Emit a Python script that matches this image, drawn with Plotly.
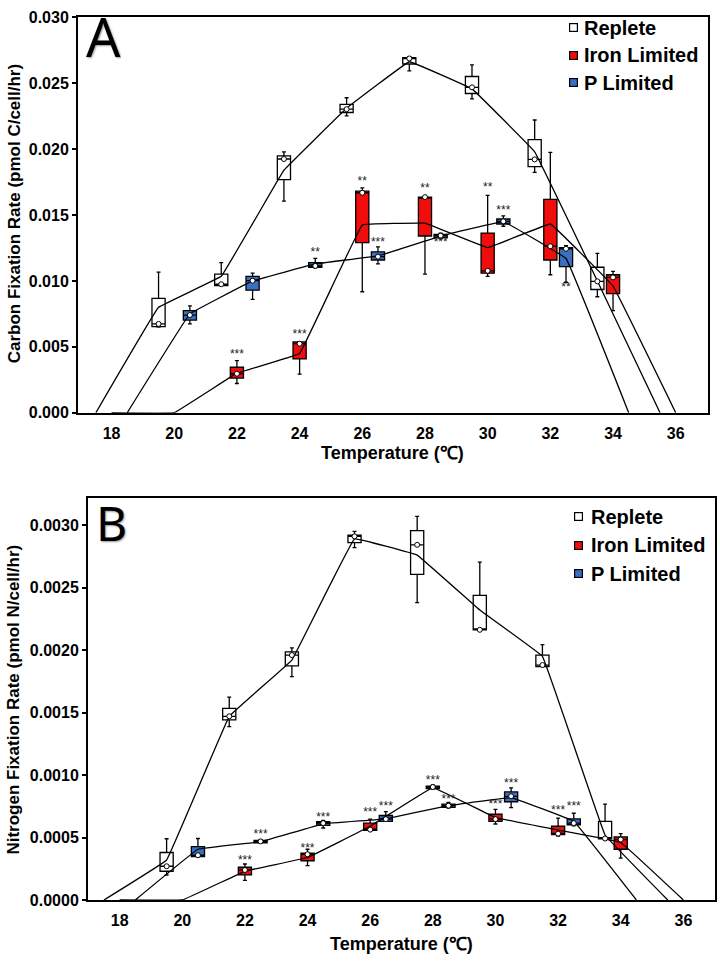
import plotly.graph_objects as go

# ---------------- DATA ----------------
temps = [20, 22, 24, 26, 28, 30, 32, 34]
temps_fe = [22, 24, 26, 28, 30, 32, 34]
temps_p = [20, 22, 24, 26, 28, 30, 32]

# Panel A: carbon fixation (pmol C/cell/hr)
A_rep_lo = [0.0065, 0.00965, 0.01606, 0.02253, 0.02594, 0.02382, 0.01823, 0.0088]
A_rep_q1 = [0.00654, 0.00965, 0.01768, 0.02278, 0.02646, 0.02422, 0.01867, 0.00935]
A_rep_med = [0.00674, 0.00975, 0.01925, 0.02303, 0.02688, 0.02469, 0.01922, 0.00997]
A_rep_q3 = [0.00868, 0.01052, 0.01949, 0.0234, 0.02695, 0.02551, 0.02072, 0.01104]
A_rep_hi = [0.01067, 0.01139, 0.01979, 0.0239, 0.0270, 0.02639, 0.02221, 0.01209]
A_rep_mean = [0.0080, 0.01035, 0.0184, 0.0231, 0.02663, 0.02457, 0.0198, 0.0100]

A_fe_lo = [0.00222, 0.00293, 0.00918, 0.01052, 0.01035, 0.01047, 0.00774]
A_fe_q1 = [0.00263, 0.00408, 0.01291, 0.01341, 0.01059, 0.01159, 0.00903]
A_fe_med = [0.00296, 0.00524, 0.01669, 0.01636, 0.01077, 0.01263, 0.01027]
A_fe_q3 = [0.00345, 0.00537, 0.01681, 0.01636, 0.01363, 0.01619, 0.01047]
A_fe_hi = [0.00395, 0.00537, 0.01706, 0.01636, 0.01649, 0.01975, 0.01072]
A_fe_mean = [0.0030, 0.0045, 0.01425, 0.01438, 0.01253, 0.01432, 0.0096]
A_fe_sig = ["***", "***", "**", "**", "**", "", ""]
A_fe_sig_y = [0.00438, 0.00589, 0.01751, 0.01699, 0.01706, None, None]

A_p_lo = [0.00674, 0.0086, 0.0110, 0.01129, 0.0132, 0.01415, 0.0099]
A_p_q1 = [0.00703, 0.0093, 0.01104, 0.01159, 0.01328, 0.01432, 0.01109]
A_p_med = [0.00741, 0.01002, 0.01114, 0.01184, 0.01343, 0.01452, 0.01244]
A_p_q3 = [0.00774, 0.01035, 0.01139, 0.01221, 0.01353, 0.0147, 0.01253]
A_p_hi = [0.00811, 0.0106, 0.01171, 0.01259, 0.01363, 0.01494, 0.01268]
A_p_mean = [0.0075, 0.0100, 0.01129, 0.0119, 0.0134, 0.0145, 0.0117]
A_p_sig = ["", "", "**", "***", "***", "***", "**"]
A_p_sig_y = [None, None, 0.01214, 0.01288, 0.01290, 0.01532, 0.00947]

# Panel B: nitrogen fixation (pmol N/cell/hr)
B_rep_lo = [0.0002, 0.001388, 0.001787, 0.00282, 0.00238, 0.002162, 0.001868, 0.00049]
B_rep_q1 = [0.00023, 0.001441, 0.001873, 0.00286, 0.002606, 0.002162, 0.001868, 0.00049]
B_rep_med = [0.00027, 0.00147, 0.00196, 0.00291, 0.002842, 0.002162, 0.00188, 0.000492]
B_rep_q3 = [0.00038, 0.001533, 0.001985, 0.00292, 0.002955, 0.002437, 0.00196, 0.000629]
B_rep_hi = [0.00049, 0.001624, 0.002017, 0.00295, 0.00307, 0.002704, 0.002044, 0.000767]
B_rep_mean = [0.00032, 0.00147, 0.00192, 0.00289, 0.00276, 0.00232, 0.00195, 0.00052]

B_fe_lo = [0.000157, 0.000275, 0.00055, 0.000888, 0.000608, 0.000511, 0.000335]
B_fe_q1 = [0.000201, 0.000314, 0.000558, 0.000891, 0.000629, 0.000524, 0.000406]
B_fe_med = [0.00024, 0.000366, 0.000563, 0.000904, 0.000647, 0.000531, 0.000484]
B_fe_q3 = [0.000262, 0.000374, 0.000615, 0.000912, 0.000686, 0.00059, 0.000505]
B_fe_hi = [0.000288, 0.000406, 0.000647, 0.000922, 0.000725, 0.000655, 0.000531]
B_fe_mean = [0.00023, 0.00034, 0.00059, 0.0009, 0.00066, 0.00056, 0.00046]
B_fe_sig = ["***", "***", "***", "***", "***", "***", ""]
B_fe_sig_y = [0.000309, 0.000411, 0.0007, 0.000956, 0.00076, 0.000712, None]

B_p_lo = [0.000348, 0.000455, 0.000576, 0.000629, 0.000735, 0.000739, 0.000594]
B_p_q1 = [0.000348, 0.000458, 0.000597, 0.000629, 0.000741, 0.000786, 0.000602]
B_p_med = [0.000358, 0.000469, 0.000615, 0.000647, 0.000755, 0.00083, 0.000615]
B_p_q3 = [0.000427, 0.000476, 0.000626, 0.000676, 0.000767, 0.000865, 0.000649]
B_p_hi = [0.000492, 0.00048, 0.000637, 0.000707, 0.00078, 0.000898, 0.000694]
B_p_mean = [0.000406, 0.000466, 0.00061, 0.00065, 0.000755, 0.00082, 0.00063]
B_p_sig = ["", "***", "***", "***", "***", "***", "***"]
B_p_sig_y = [None, 0.000521, 0.00066, 0.000747, 0.000799, 0.00093, 0.000747]

# temperatures where rate was zero (line end points)
rep_zero = [18, 36]
fe_zero_low = [18, 20]
fe_zero_high = [36]
p_zero = [18, 34]

series_names = ["Replete", "Iron Limited", "P Limited"]
x_tick_labels = ["18", "20", "22", "24", "26", "28", "30", "32", "34", "36"]

# ---------------- STYLE ----------------
FONT = "Liberation Sans, Arial, sans-serif"
RED = "#f20d0d"
BLUE = "#3a6fc2"
WHITE = "#ffffff"
SERIES_COLORS = [WHITE, RED, BLUE]
OFF = {"Replete": -0.5, "Iron Limited": 0.0, "P Limited": 0.5}
BOXW = 0.42
W, H = 720, 965

fig = go.Figure()


def add_panel(xa, ya, rep, fe, pl):
    ax = dict(xaxis=xa, yaxis=ya)
    groups = [
        ("Replete", temps, rep, WHITE, [rep_zero[0]], [rep_zero[1]]),
        ("Iron Limited", temps_fe, fe, RED, fe_zero_low, fe_zero_high),
        ("P Limited", temps_p, pl, BLUE, [p_zero[0]], [p_zero[1]]),
    ]
    # connecting lines (through means)
    for name, tt, d, col, zl, zh in groups:
        off = OFF[name]
        xs = [t + off for t in zl] + [t + off for t in tt] + [t + off for t in zh]
        ys = [0] * len(zl) + list(d["mean"]) + [0] * len(zh)
        fig.add_trace(go.Scatter(x=xs, y=ys, mode="lines",
                                 line=dict(color="black", width=1.3, shape="spline", smoothing=0.12),
                                 showlegend=False, hoverinfo="skip", **ax))
    # boxes
    for name, tt, d, col, zl, zh in groups:
        off = OFF[name]
        xs = [t + off for t in tt]
        fig.add_trace(go.Box(x=xs, q1=d["q1"], median=d["med"], q3=d["q3"],
                             lowerfence=d["lo"], upperfence=d["hi"],
                             width=BOXW, whiskerwidth=0.3, fillcolor=col,
                             line=dict(color="black", width=1.3), name=name,
                             boxpoints=False, showlegend=False, hoverinfo="skip", **ax))
        fig.add_trace(go.Scatter(x=xs, y=d["med"], mode="markers",
                                 marker=dict(symbol="circle", size=5, color="white",
                                             line=dict(color="black", width=1)),
                                 showlegend=False, hoverinfo="skip", **ax))
    # significance stars
    for name, tt, d, col, zl, zh in groups:
        if "sig" not in d:
            continue
        off = OFF[name]
        xs = [t + off for t in tt]
        fig.add_trace(go.Scatter(x=xs, y=d["sig_y"], mode="text", text=d["sig"],
                                 textposition="middle center",
                                 textfont=dict(family=FONT, size=12, color="#222"),
                                 showlegend=False, hoverinfo="skip", **ax))


def pack(lo, q1, med, q3, hi, mean, sig=None, sig_y=None):
    d = dict(lo=lo, q1=q1, med=med, q3=q3, hi=hi, mean=mean)
    if sig is not None:
        d["sig"] = sig
        d["sig_y"] = sig_y
    return d


add_panel("x", "y",
          pack(A_rep_lo, A_rep_q1, A_rep_med, A_rep_q3, A_rep_hi, A_rep_mean),
          pack(A_fe_lo, A_fe_q1, A_fe_med, A_fe_q3, A_fe_hi, A_fe_mean, A_fe_sig, A_fe_sig_y),
          pack(A_p_lo, A_p_q1, A_p_med, A_p_q3, A_p_hi, A_p_mean, A_p_sig, A_p_sig_y))
add_panel("x2", "y2",
          pack(B_rep_lo, B_rep_q1, B_rep_med, B_rep_q3, B_rep_hi, B_rep_mean),
          pack(B_fe_lo, B_fe_q1, B_fe_med, B_fe_q3, B_fe_hi, B_fe_mean, B_fe_sig, B_fe_sig_y),
          pack(B_p_lo, B_p_q1, B_p_med, B_p_q3, B_p_hi, B_p_mean, B_p_sig, B_p_sig_y))

tickfont = dict(family=FONT, size=16, color="black", weight="bold")
tickvals = [int(t) for t in x_tick_labels]

xcommon = dict(showline=True, mirror=True, linecolor="black", linewidth=2,
               tickvals=tickvals, ticktext=x_tick_labels, ticks="outside", ticklen=5,
               tickcolor="rgba(0,0,0,0)", tickfont=tickfont, showgrid=False, zeroline=False)
ycommon = dict(showline=True, mirror=True, linecolor="black", linewidth=2,
               ticks="outside", ticklen=4, tickwidth=2, tickcolor="black",
               tickfont=tickfont, showgrid=False, zeroline=False)

fig.update_layout(
    width=W, height=H, margin=dict(l=0, r=0, t=0, b=0),
    paper_bgcolor="white", plot_bgcolor="white",
    boxmode="overlay", showlegend=False,
    xaxis=dict(domain=[78 / W, 708 / W], range=[16.93, 37.03], anchor="y", **xcommon),
    yaxis=dict(domain=[1 - 412 / H, 1 - 9.5 / H], range=[0, 0.030], anchor="x",
               tickvals=[0, 0.005, 0.010, 0.015, 0.020, 0.025, 0.030],
               ticktext=["0.000", "0.005", "0.010", "0.015", "0.020", "0.025", "0.030"], **ycommon),
    xaxis2=dict(domain=[88 / W, 715 / W], range=[16.99, 37.01], anchor="y2", **xcommon),
    yaxis2=dict(domain=[1 - 908 / H, 1 - 499 / H], range=[0, 0.003215], anchor="x2",
                tickvals=[0, 0.0005, 0.0010, 0.0015, 0.0020, 0.0025, 0.0030],
                ticktext=["0.0000", "0.0005", "0.0010", "0.0015", "0.0020", "0.0025", "0.0030"], **ycommon),
)

titlefont = dict(family=FONT, size=17, color="black", weight="bold")
xtitlefont = dict(family=FONT, size=18, color="black", weight="bold")
annots = [
    dict(text="Carbon Fixation Rate (pmol C/cell/hr)", x=14 / W, y=1 - 210 / H, textangle=-90, font=titlefont),
    dict(text="Nitrogen Fixation Rate (pmol N/cell/hr)", x=14 / W, y=1 - 704 / H, textangle=-90, font=titlefont),
    dict(text="Temperature (℃)", x=393 / W, y=1 - 453 / H, font=xtitlefont),
    dict(text="Temperature (℃)", x=401 / W, y=1 - 953 / H, font=xtitlefont),
    dict(text="A", x=104 / W, y=1 - 28 / H, height=56, valign="middle",
         font=dict(family="Noto Sans", size=54, color="black", shadow="1px 1px 2px #999")),
    dict(text="B", x=111 / W, y=1 - 524 / H,
         font=dict(family="Noto Sans", size=48, color="black", shadow="1px 1px 2px #999")),
]
for a in annots:
    fig.add_annotation(xref="paper", yref="paper", showarrow=False, xanchor="center", yanchor="middle", **a)

# Legends (square swatch + bold label) for each panel
legend_font = dict(family=FONT, size=20, color="black", weight="bold")
for sq_x, txt_x, ys in [(573, 582, [20, 48, 76]), (578, 589, [518, 547, 576])]:
    for name, col, yy in zip(series_names, SERIES_COLORS, ys):
        fig.add_annotation(xref="paper", yref="paper", x=sq_x / W, y=1 - yy / H,
                           text=" ", showarrow=False, xanchor="center", yanchor="middle",
                           width=7, height=7, bgcolor=col, bordercolor="black",
                           borderwidth=1.2, borderpad=0, font=dict(size=4))
        fig.add_annotation(xref="paper", yref="paper", x=txt_x / W, y=1 - yy / H,
                           text=name, showarrow=False, xanchor="left", yanchor="middle",
                           font=legend_font)

fig.write_html("out.html")
